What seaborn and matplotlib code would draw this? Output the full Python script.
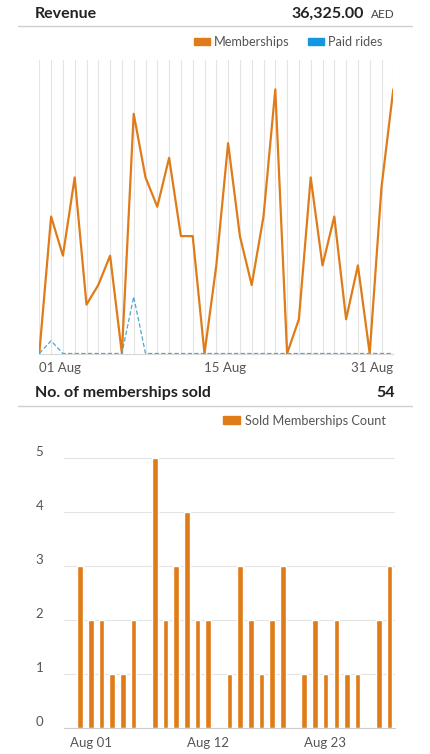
import matplotlib
matplotlib.use("Agg")
import matplotlib.pyplot as plt
import matplotlib.transforms as mtransforms
from matplotlib.lines import Line2D
from matplotlib.patches import Patch
import seaborn as sns
import pandas as pd

# ---------------------------------------------------------------------
# DATA
# ---------------------------------------------------------------------
days = list(range(1, 32))
memberships = [0, 1400, 1000, 1800, 500, 700, 1000, 0, 2450, 1800, 1500,
               2000, 1200, 1200, 0, 900, 2150, 1200, 700, 1400, 2700, 0,
               350, 1800, 900, 1400, 350, 900, 0, 1700, 2700]
paid_rides = [0, 130, 0, 0, 0, 0, 0, 0, 580, 0, 0, 0, 0, 0, 0, 0, 0, 0, 0,
              0, 0, 0, 0, 0, 0, 0, 0, 0, 0, 0, 0]
sold_count = [0, 3, 2, 2, 1, 1, 2, 0, 5, 2, 3, 4, 2, 2, 0, 1, 3, 2, 1, 2, 3,
              0, 1, 2, 1, 2, 1, 1, 0, 2, 3]

line_ticks = [0, 14, 30]
line_tick_labels = ["01 Aug", "15 Aug", "31 Aug"]
bar_ticks = [0, 11, 22]
bar_tick_labels = ["Aug 01", "Aug 12", "Aug 23"]

total_revenue = "36,325.00"
total_sold = "54"

ORANGE = "#E07B1A"
BLUE = "#1496E0"
BLUE_LINE = "#4FA8D0"
GRID = "#e4e4e4"
TXT = "#555555"

df = pd.DataFrame({"idx": [d - 1 for d in days],
                   "Memberships": memberships,
                   "Paid rides": paid_rides,
                   "Count": sold_count})

sns.set_theme(style="white")
plt.rcParams["font.family"] = ["Lato", "DejaVu Sans"]

W, H = 430, 754
fig = plt.figure(figsize=(W / 100, H / 100), dpi=100)


def fx(x):
    return x / W


def fy(y):
    return 1 - y / H


# ---------------------------------------------------------------------
# HEADERS
# ---------------------------------------------------------------------
fig.text(fx(35), fy(14), "Revenue", fontsize=11.5, fontweight="bold",
         color="#222222", ha="left", va="center")
fig.text(fx(364), fy(14), total_revenue, fontsize=11.5, fontweight="bold",
         color="#222222", ha="right", va="center")
fig.text(fx(395), fy(15), "AED", fontsize=8.5, color="#444444",
         ha="right", va="center")
fig.add_artist(Line2D([fx(18), fx(412)], [fy(26), fy(26)], color="#d0d0d0", lw=1))

fig.text(fx(35), fy(393), "No. of memberships sold", fontsize=11.5,
         fontweight="bold", color="#222222", ha="left", va="center")
fig.text(fx(395), fy(393), total_sold, fontsize=11.5, fontweight="bold",
         color="#222222", ha="right", va="center")
fig.add_artist(Line2D([fx(18), fx(412)], [fy(406), fy(406)], color="#d0d0d0", lw=1))

# ---------------------------------------------------------------------
# GRAFICA 1: Revenue
# ---------------------------------------------------------------------
ax1 = fig.add_axes([fx(39.3), fy(353.5), fx(393.3) - fx(39.3), (353.5 - 60) / H])
sns.lineplot(data=df, x="idx", y="Memberships", color=ORANGE, lw=1.6, ax=ax1,
             zorder=3)
sns.lineplot(data=df, x="idx", y="Paid rides", color=BLUE_LINE, lw=0.9, ax=ax1,
             dashes=False, zorder=4)
ax1.lines[-1].set_dashes([3.5, 1.8])
ax1.set_xlim(0, 30)
ax1.set_ylim(0, 3000)
ax1.set_xticks(range(31), minor=True)
ax1.set_xticks(line_ticks)
ax1.set_xticklabels(line_tick_labels)
for lab, ha in zip(ax1.get_xticklabels(), ["left", "left", "right"]):
    lab.set_ha(ha)
ax1.set_yticks([])
ax1.grid(which="both", axis="x", color=GRID, lw=0.8)
ax1.tick_params(axis="x", which="both", length=0, pad=6, labelsize=9.5,
                labelcolor=TXT)
ax1.set_xlabel("")
ax1.set_ylabel("")
for s in ["top", "right", "left"]:
    ax1.spines[s].set_visible(False)
ax1.spines["bottom"].set_color("#d8d8d8")
ax1.spines["bottom"].set_linewidth(0.8)

handles = [Patch(color=ORANGE, label="Memberships"),
           Patch(color=BLUE, label="Paid rides")]
fig.legend(handles=handles, loc="center right",
           bbox_to_anchor=(fx(389), fy(42)), ncol=2, frameon=False,
           fontsize=9.2, handlelength=1.25, handleheight=0.55,
           handletextpad=0.3, columnspacing=1.5, borderpad=0,
           labelcolor=TXT)

# ---------------------------------------------------------------------
# GRAFICA 2: Sold memberships count
# ---------------------------------------------------------------------
ax2 = fig.add_axes([fx(64.3), fy(728.3), fx(395) - fx(64.3), 270 / H])
sns.barplot(data=df, x="idx", y="Count", color=ORANGE, saturation=1,
            width=0.53, ax=ax2, zorder=3)
ax2.set_xlim(-0.5, 30.5)
ax2.set_ylim(0, 5)
ax2.set_yticks(range(6))
ax2.set_yticklabels([str(v) for v in range(6)])
ax2.grid(axis="y", color=GRID, lw=0.8)
ax2.grid(axis="x", visible=False)
ax2.set_xticks([t - 0.5 for t in bar_ticks], minor=True)
ax2.set_xticks(bar_ticks)
ax2.set_xticklabels(bar_tick_labels)
for lab in ax2.get_xticklabels():
    lab.set_ha("left")
ax2.tick_params(axis="x", which="major", length=0, pad=6, labelsize=9.5,
                labelcolor=TXT)
ax2.tick_params(axis="x", which="minor", length=3.5, width=0.8,
                color="#cccccc", direction="out")
ax2.tick_params(axis="y", length=0, pad=15, labelsize=9.5, labelcolor=TXT)
ax2.set_xlabel("")
ax2.set_ylabel("")
for s in ["top", "right", "left"]:
    ax2.spines[s].set_visible(False)
ax2.spines["bottom"].set_color("#cccccc")
ax2.spines["bottom"].set_linewidth(0.8)
shift = mtransforms.ScaledTranslation(0, 0.076, fig.dpi_scale_trans)
for lab in ax2.get_yticklabels():
    lab.set_transform(lab.get_transform() + shift)

fig.legend(handles=[Patch(color=ORANGE, label="Sold Memberships Count")],
           loc="center right", bbox_to_anchor=(fx(392), fy(420.7)),
           frameon=False, fontsize=9.2, handlelength=1.3, handleheight=0.6,
           handletextpad=0.4, borderpad=0, labelcolor=TXT)

fig.savefig("out.png", dpi=100)
